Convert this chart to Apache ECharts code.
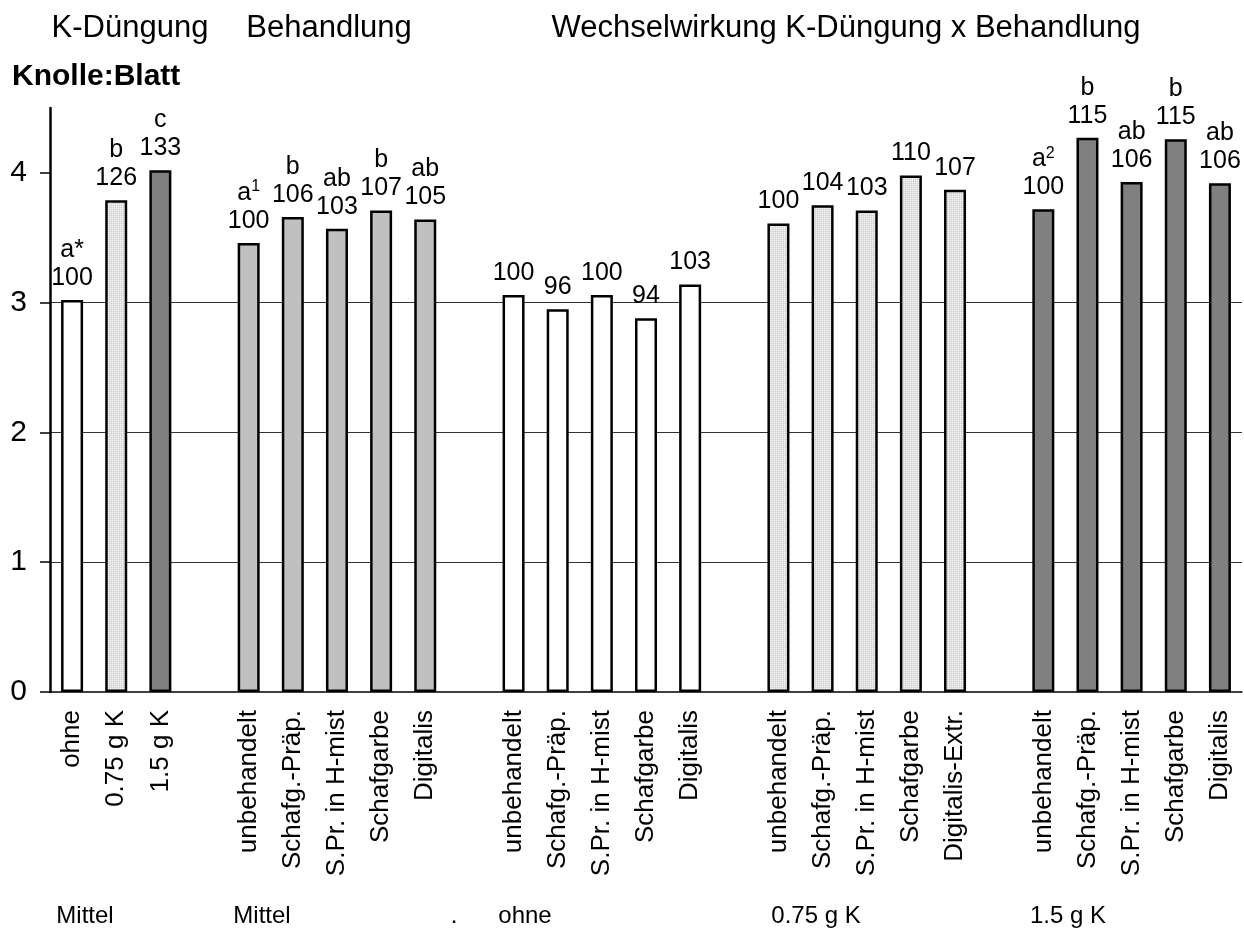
<!DOCTYPE html>
<html>
<head>
<meta charset="utf-8">
<script src="https://cdn.jsdelivr.net/npm/echarts@6/dist/echarts.min.js"></script>
<style>
  html, body { margin: 0; padding: 0; background: #fff; }
  #chart { width: 1244px; height: 929px; }
</style>
</head>
<body>
<div id="chart"></div>
<script>
// Knolle:Blatt ratio — K-Düngung, Behandlung and their interaction

// Main effect: K-Düngung (Mittel)
const kCategories = ['ohne', '0.75 g K', '1.5 g K'];
const kValues = [3.02, 3.79, 4.02];
const kRelative = [100, 126, 133];
const kLetters = ['a*', 'b', 'c'];
const kSup = ['', '', ''];

// Main effect: Behandlung (Mittel)
const treatCategories = ['unbehandelt', 'Schafg.-Präp.', 'S.Pr. in H-mist', 'Schafgarbe', 'Digitalis'];
const treatValues = [3.46, 3.66, 3.57, 3.71, 3.64];
const treatRelative = [100, 106, 103, 107, 105];
const treatLetters = ['a', 'b', 'ab', 'b', 'ab'];
const treatSup = ['1', '', '', '', ''];

// Interaction: ohne K
const ohneCategories = ['unbehandelt', 'Schafg.-Präp.', 'S.Pr. in H-mist', 'Schafgarbe', 'Digitalis'];
const ohneValues = [3.06, 2.95, 3.06, 2.88, 3.14];
const ohneRelative = [100, 96, 100, 94, 103];

// Interaction: 0.75 g K
const k075Categories = ['unbehandelt', 'Schafg.-Präp.', 'S.Pr. in H-mist', 'Schafgarbe', 'Digitalis-Extr.'];
const k075Values = [3.61, 3.75, 3.71, 3.98, 3.87];
const k075Relative = [100, 104, 103, 110, 107];

// Interaction: 1.5 g K
const k15Categories = ['unbehandelt', 'Schafg.-Präp.', 'S.Pr. in H-mist', 'Schafgarbe', 'Digitalis'];
const k15Values = [3.72, 4.27, 3.93, 4.26, 3.92];
const k15Relative = [100, 115, 106, 115, 106];
const k15Letters = ['a', 'b', 'ab', 'b', 'ab'];
const k15Sup = ['2', '', '', '', ''];

const yTicks = [0, 1, 2, 3, 4];
const headerTitles = ['K-Düngung', 'Behandlung', 'Wechselwirkung K-Düngung x Behandlung'];
const panelTitle = 'Knolle:Blatt';
const groupFooters = ['Mittel', 'Mittel', '.', 'ohne', '0.75 g K', '1.5 g K'];

const FONT = '"Liberation Sans", Arial, Helvetica, sans-serif';

// light stippled fill for the 0.75 g K bars
function stipple() {
  const c = document.createElement('canvas');
  c.width = 2; c.height = 2;
  const g = c.getContext('2d');
  g.fillStyle = '#e0e0e0';
  g.fillRect(0, 0, 2, 2);
  g.fillStyle = '#f6f6f6';
  g.fillRect(0, 0, 1, 1);
  g.fillStyle = '#d2d2d2';
  g.fillRect(1, 1, 1, 1);
  return { image: c, repeat: 'repeat' };
}

const WHITE = '#ffffff';
const LIGHT = stipple();
const MID = '#c0c0c0';
const DARK = '#808080';

const groups = [
  { cats: kCategories, vals: kValues, rel: kRelative, letters: kLetters, sup: kSup, colors: [WHITE, LIGHT, DARK] },
  { cats: treatCategories, vals: treatValues, rel: treatRelative, letters: treatLetters, sup: treatSup, colors: MID },
  { cats: ohneCategories, vals: ohneValues, rel: ohneRelative, colors: WHITE },
  { cats: k075Categories, vals: k075Values, rel: k075Relative, colors: LIGHT },
  { cats: k15Categories, vals: k15Values, rel: k15Relative, letters: k15Letters, sup: k15Sup, colors: DARK }
];

// one category axis; an empty slot separates the groups
const categories = [];
const barData = [];
const labelInfo = [];
groups.forEach((grp, gi) => {
  if (gi > 0) {
    categories.push('');
    barData.push('-');
    labelInfo.push(null);
  }
  grp.cats.forEach((c, i) => {
    categories.push(c);
    const color = Array.isArray(grp.colors) ? grp.colors[i] : grp.colors;
    barData.push({ value: grp.vals[i], itemStyle: { color: color } });
    labelInfo.push({
      rel: grp.rel[i],
      letter: grp.letters ? grp.letters[i] : '',
      sup: grp.sup ? grp.sup[i] : ''
    });
  });
});

const chart = echarts.init(document.getElementById('chart'), null, { renderer: 'canvas' });

// header and footer text
const headerCenter = [130, 329, 846];
const footerCenter = [85, 262, 454, 525, 816, 1068];

const graphics = [];
headerTitles.forEach((t, i) => {
  graphics.push({
    type: 'text', x: headerCenter[i], y: 28,
    style: { text: t, font: '31px ' + FONT, fill: '#000', textAlign: 'center', textVerticalAlign: 'middle' }
  });
});
graphics.push({
  type: 'text', x: 12, y: 77,
  style: { text: panelTitle, font: 'bold 30px ' + FONT, fill: '#000', textAlign: 'left', textVerticalAlign: 'middle' }
});
groupFooters.forEach((t, i) => {
  graphics.push({
    type: 'text', x: footerCenter[i], y: 916,
    style: { text: t, font: '24px ' + FONT, fill: '#000', textAlign: 'center', textVerticalAlign: 'middle' }
  });
});

chart.setOption({
  animation: false,
  backgroundColor: '#fff',
  grid: { left: 50, right: 2, top: 108, bottom: 237, containLabel: false },
  xAxis: {
    type: 'category',
    data: categories,
    axisLine: { lineStyle: { color: '#000', width: 1.5 } },
    axisTick: { show: false },
    axisLabel: {
      interval: 0, rotate: 90, margin: 18,
      fontFamily: FONT, fontSize: 26, color: '#000'
    },
    splitLine: { show: false }
  },
  yAxis: {
    type: 'value',
    min: 0, max: 4.5, interval: 1,
    axisLine: { show: true, lineStyle: { color: '#000', width: 2.5 } },
    axisTick: { show: true, length: 10, customValues: yTicks, lineStyle: { color: '#000', width: 1.5 } },
    axisLabel: {
      customValues: yTicks, margin: 23,
      fontFamily: FONT, fontSize: 30, color: '#000'
    },
    splitLine: { show: true, showMaxLine: false, showMinLine: false, lineStyle: { color: '#333', width: 1 } }
  },
  series: [{
    type: 'bar',
    data: barData,
    barWidth: 22,
    itemStyle: { borderColor: '#000', borderWidth: 2.5 },
    label: {
      show: true,
      position: 'top',
      distance: 8,
      align: 'center',
      formatter: p => {
        const info = labelInfo[p.dataIndex];
        if (!info) return '';
        let s = '';
        if (info.letter) {
          s += '{l|' + info.letter + '}';
          if (info.sup) s += '{s|' + info.sup + '}';
          s += '\n';
        }
        return s + '{n|' + info.rel + '}';
      },
      rich: {
        n: { fontFamily: FONT, fontSize: 25, lineHeight: 28, color: '#000' },
        l: { fontFamily: FONT, fontSize: 25, lineHeight: 28, color: '#000' },
        s: { fontFamily: FONT, fontSize: 16, lineHeight: 16, color: '#000', verticalAlign: 'top' }
      }
    }
  }],
  graphic: graphics
});
</script>
</body>
</html>
